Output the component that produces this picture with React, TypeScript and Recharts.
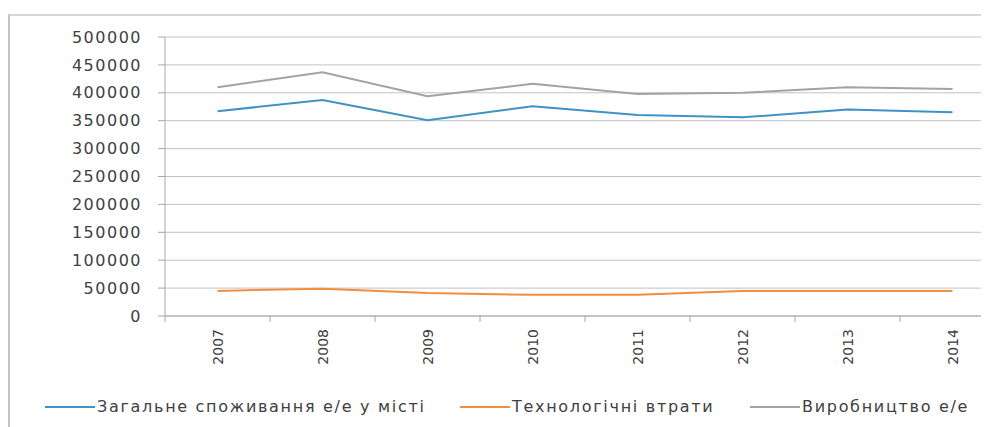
import React from 'react';
import {
  LineChart, Line, XAxis, YAxis, CartesianGrid,
} from 'recharts';

const years = ['2007', '2008', '2009', '2010', '2011', '2012', '2013', '2014'];
const consumption = [367000, 387000, 351000, 376000, 360000, 356000, 370000, 365000];
const losses = [45000, 49000, 41000, 38000, 38000, 45000, 45000, 45000];
const production = [410000, 437000, 394000, 416000, 398000, 400000, 410000, 407000];
const yTicks = [0, 50000, 100000, 150000, 200000, 250000, 300000, 350000, 400000, 450000, 500000];

const series = [
  { key: 'consumption', name: 'Загальне споживання е/е у місті', color: '#3f93c4' },
  { key: 'losses', name: 'Технологічні втрати', color: '#ef8f3f' },
  { key: 'production', name: 'Виробництво е/е', color: '#a3a3a3' },
];

const data = years.map((year, i) => ({
  year,
  consumption: consumption[i],
  losses: losses[i],
  production: production[i],
}));

const font = '"DejaVu Sans", sans-serif';

// tick label rotated, with a small tick mark on the category boundary (Excel style)
const YearTick = (props: any) => {
  const { x, y, payload } = props;
  const edge = x - 52.5;
  return (
    <g>
      <line x1={edge} x2={edge} y1={y} y2={y + 6} stroke="#a6a6a6" />
      <text
        x={x}
        y={y + 13}
        transform={`rotate(-90 ${x} ${y + 13})`}
        textAnchor="end"
        dominantBaseline="central"
        fill="#404040"
        fontSize={14}
        fontFamily={font}
      >
        {payload.value}
      </text>
    </g>
  );
};

const legendLeft = [35, 450, 740];

const App: React.FC = () => {
  return (
    <div style={{ paddingTop: 6 }}>
      <div
        style={{
          width: 979,
          height: 413,
          borderTop: '2px solid #d6d6d6',
          borderLeft: '2px solid #c4c4c4',
          overflow: 'hidden',
          position: 'relative',
          background: '#fff',
        }}
      >
        <LineChart
          width={995}
          height={370}
          data={data}
          margin={{ top: 21, right: 0, left: 0, bottom: 0 }}
        >
          <CartesianGrid vertical={false} stroke="#c2c2c2" />
          <XAxis
            dataKey="year"
            height={70}
            padding={{ left: 52.5, right: 52.5 }}
            axisLine={{ stroke: '#a6a6a6' }}
            tickLine={false}
            tickSize={0}
            tickMargin={0}
            interval={0}
            tick={<YearTick />}
          />
          <YAxis
            width={155}
            domain={[0, 500000]}
            ticks={yTicks}
            interval={0}
            axisLine={{ stroke: '#a6a6a6' }}
            tickLine={{ stroke: '#a6a6a6' }}
            tickSize={7}
            tickMargin={16}
            tick={{ fill: '#404040', fontSize: 16, fontFamily: font, letterSpacing: 1.5 }}
          />
          {series.map((s) => (
            <Line
              key={s.key}
              type="linear"
              dataKey={s.key}
              name={s.name}
              stroke={s.color}
              strokeWidth={2}
              dot={false}
              isAnimationActive={false}
            />
          ))}
        </LineChart>
        {series.map((s, i) => (
          <div
            key={s.key}
            style={{
              position: 'absolute',
              left: legendLeft[i],
              top: 381,
              display: 'flex',
              alignItems: 'center',
              fontFamily: font,
              fontSize: 16,
              letterSpacing: 1.7,
              color: '#404040',
              whiteSpace: 'nowrap',
            }}
          >
            <span style={{ display: 'inline-block', width: 50, height: 2, background: s.color, marginRight: 2 }} />
            <span>{s.name}</span>
          </div>
        ))}
      </div>
    </div>
  );
};

export default App;
